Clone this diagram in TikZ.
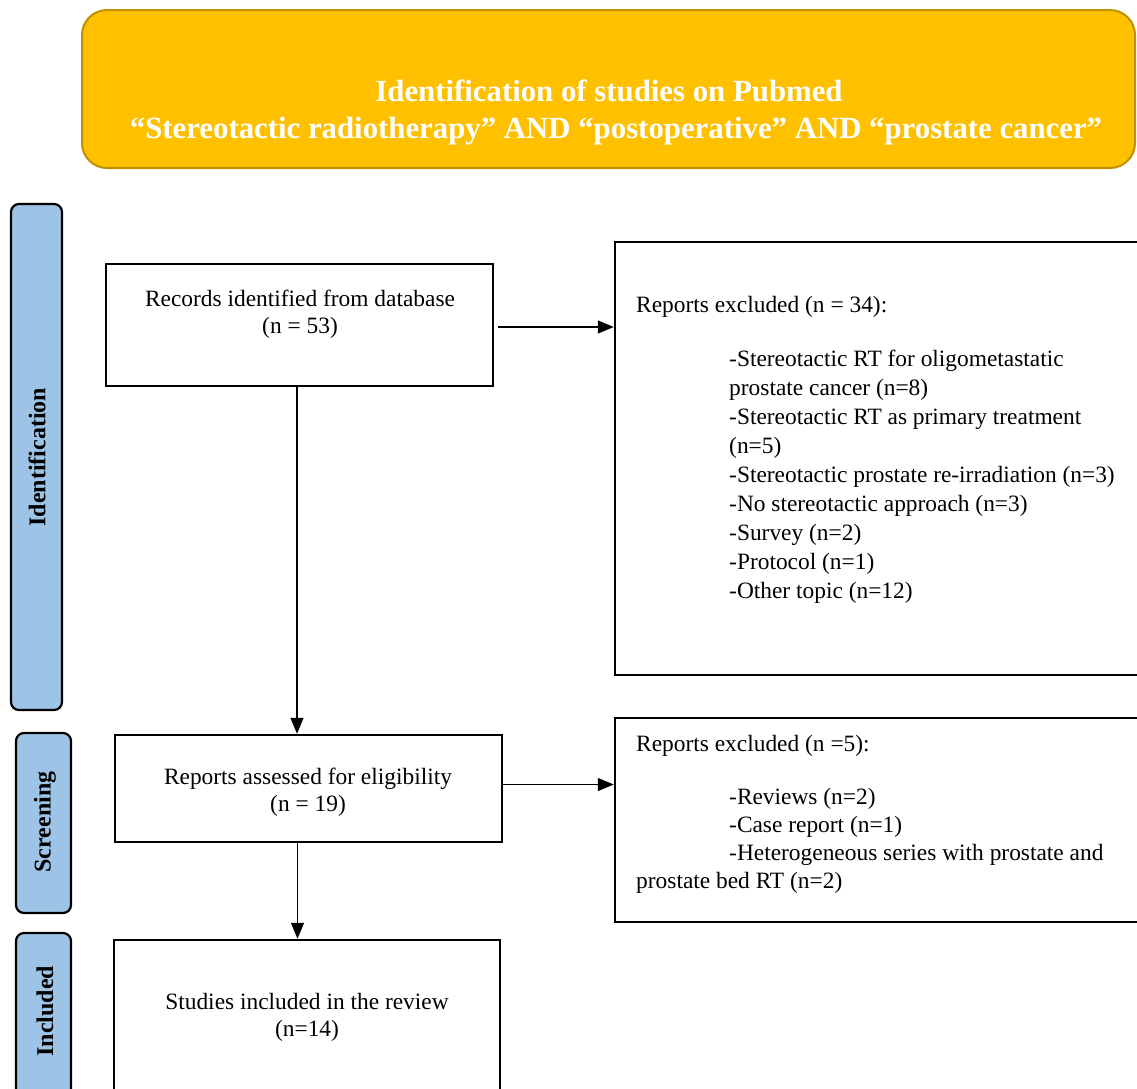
\documentclass[tikz,border=0pt]{standalone}
\usepackage{fontspec}
\setmainfont{Liberation Serif}
\usetikzlibrary{arrows.meta}
\definecolor{gold}{HTML}{FFC000}
\definecolor{golddark}{HTML}{BF9000}
\definecolor{sideblue}{HTML}{9DC3E6}
\tikzset{
  titlebox/.style={draw=golddark, line width=2pt, fill=gold, rounded corners=25pt, inner sep=0pt},
  sidebar/.style={draw=black, line width=2.2pt, fill=sideblue, rounded corners=8pt, inner sep=0pt},
  sidelabel/.style={rotate=90, font=\fontsize{24}{28}\selectfont\bfseries, inner sep=0pt},
  flowbox/.style={draw=black, line width=2.5pt, fill=white, inner sep=0pt},
  bodytext/.style={font=\fontsize{23.4}{27}\selectfont, inner sep=0pt},
  arr/.style={line width=1.3pt, -{Triangle[length=16pt,width=13pt]}}
}
\begin{document}
\begin{tikzpicture}[x=1pt, y=-1pt]
\useasboundingbox (0,0) rectangle (1137,1088);
\clip (0,0) rectangle (1137,1088);

% title
\node[titlebox, minimum width=1053pt, minimum height=158pt] (title) at (608.5,89) {};
\node[font=\fontsize{30.8}{37}\selectfont\bfseries, text=white, align=center, inner sep=0pt] (titletext) at (616,112.5)
  {Identification of studies on Pubmed\hspace*{14pt}\\“Stereotactic radiotherapy” AND “postoperative” AND “prostate cancer”};

% side bars
\node[sidebar, minimum width=51pt, minimum height=506pt] (idbar) at (36.5,457) {};
\node[sidelabel] (idlabel) at (37,457) {Identification};
\node[sidebar, minimum width=55pt, minimum height=180pt] (scbar) at (43.5,823) {};
\node[sidelabel] (sclabel) at (45,822) {Screening};
\node[sidebar, minimum width=55pt, minimum height=167pt] (inbar) at (43.5,1016.5) {};
\node[sidelabel] (inlabel) at (45,1011) {Included};

% flow boxes
\node[flowbox, minimum width=387pt, minimum height=122pt] (rec) at (299.5,325) {};
\node[bodytext, align=center, anchor=north] (rectext) at (300,289.5) {Records identified from database\\(n = 53)};

\node[flowbox, minimum width=535pt, minimum height=433pt] (ex1) at (882.5,458.5) {};
\node[bodytext, anchor=north west] (ex1head) at (636,296.5) {Reports excluded (n = 34):};
\node[bodytext, font=\fontsize{23.4}{29.1}\selectfont, align=left, anchor=north west] (ex1list) at (729,349.5)
  {-Stereotactic RT for oligometastatic\\prostate cancer (n=8)\\-Stereotactic RT as primary treatment\\(n=5)\\-Stereotactic prostate re-irradiation (n=3)\\-No stereotactic approach (n=3)\\-Survey (n=2)\\-Protocol (n=1)\\-Other topic (n=12)};

\node[flowbox, minimum width=387pt, minimum height=107pt] (scr) at (308.5,788.5) {};
\node[bodytext, align=center, anchor=north] (scrtext) at (308,767.5) {Reports assessed for eligibility\\(n = 19)};

\node[flowbox, minimum width=535pt, minimum height=204pt] (ex2) at (882.5,820) {};
\node[bodytext, anchor=north west] (ex2head) at (636,735.5) {Reports excluded (n =5):};
\node[bodytext, font=\fontsize{23.4}{27.7}\selectfont, align=left, anchor=north west] (ex2list) at (636,788.5)
  {\hspace*{93pt}-Reviews (n=2)\\\hspace*{93pt}-Case report (n=1)\\\hspace*{93pt}-Heterogeneous series with prostate and\\prostate bed RT (n=2)};

\node[flowbox, minimum width=386pt, minimum height=160pt] (inc) at (307,1020) {};
\node[bodytext, align=center, anchor=north] (inctext) at (307,993.5) {Studies included in the review\\(n=14)};

% connectors
\draw[arr] ([xshift=4pt,yshift=-2pt]rec.east) -- ([yshift=-2pt]rec.east -| ex1.west);
\draw[arr] ([xshift=-2.5pt]rec.south) -- ([xshift=-2.5pt]rec.south |- scr.north);
\draw[arr] ([yshift=4pt]scr.east) -- ([yshift=4pt]scr.east -| ex2.west);
\draw[arr] ([xshift=-11pt]scr.south) -- ([xshift=-11pt]scr.south |- inc.north);
\end{tikzpicture}
\end{document}
